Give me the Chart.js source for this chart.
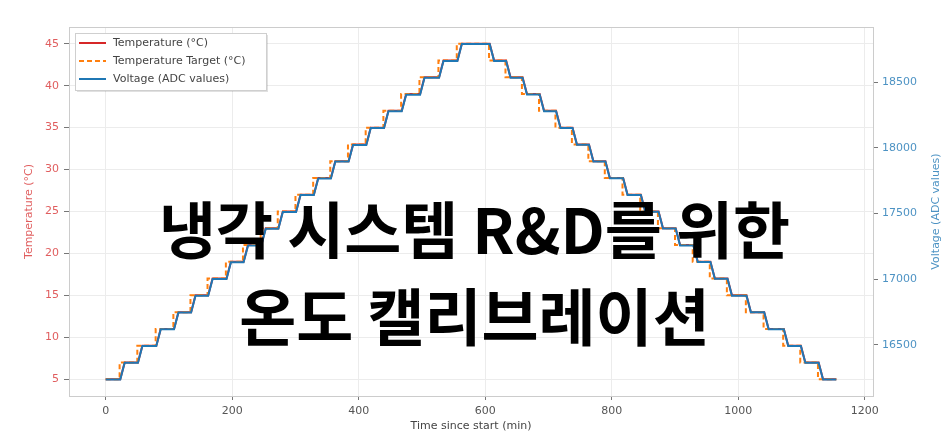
<!DOCTYPE html>
<html>
<head>
<meta charset="utf-8">
<script src="https://cdn.jsdelivr.net/npm/chart.js@4/dist/chart.umd.min.js"></script>
<style>
  html, body { margin: 0; padding: 0; background: #fff; }
  #wrap { position: relative; width: 949px; height: 433px; }
  #overlay {
    position: absolute; left: 0; top: 184px; width: 949px;
    text-align: center; font-family: "Noto Sans CJK KR", sans-serif;
    font-weight: 700; font-size: 62px; line-height: 87px; color: #000;
    pointer-events: none;
  }
</style>
</head>
<body>
<div id="wrap">
  <canvas id="chart" width="949" height="433"></canvas>
  <div id="overlay">냉각 시스템 R&amp;D를 위한<br>온도 캘리브레이션</div>
</div>
<script>
// target change times (min) and the levels between them
const changeTimes = [22, 50, 79, 107, 134, 161, 190, 217, 245, 272, 300, 328, 355, 383, 411, 439, 467, 496, 526, 555,
  606, 632, 658, 685, 711, 737, 763, 789, 817, 845, 873, 900, 928, 955, 982, 1012, 1040, 1071, 1098, 1126];
const tempLevels = [5, 7, 9, 11, 13, 15, 17, 19, 21, 23, 25, 27, 29, 31, 33, 35, 37, 39, 41, 43, 45,
  43, 41, 39, 37, 35, 33, 31, 29, 27, 25, 23, 21, 19, 17, 15, 13, 11, 9, 7, 5];
const voltLevels = [16236, 16364, 16490, 16619, 16746, 16874, 17001, 17129, 17257, 17384, 17512, 17640, 17767, 17895, 18022, 18150, 18278, 18405, 18533, 18661, 18790,
  18662, 18534, 18406, 18279, 18151, 18023, 17896, 17768, 17640, 17513, 17385, 17257, 17130, 17002, 16874, 16747, 16619, 16491, 16364, 16236];
const endTime = 1155;
const lag = 1;    // temperature starts moving after target
const ramp = 8;   // minutes to reach the new level
const xTicks = [0, 200, 400, 600, 800, 1000, 1200];
const tempTicks = [5, 10, 15, 20, 25, 30, 35, 40, 45];
const voltTicks = [16500, 17000, 17500, 18000, 18500];

function targetPoints() {
  const pts = [{x: 0, y: tempLevels[0]}];
  changeTimes.forEach(function (t, i) {
    pts.push({x: t, y: tempLevels[i]});
    pts.push({x: t, y: tempLevels[i + 1]});
  });
  pts.push({x: endTime, y: tempLevels[tempLevels.length - 1]});
  return pts;
}

function followPoints(levels) {
  const pts = [{x: 0, y: levels[0]}];
  changeTimes.forEach(function (t, i) {
    pts.push({x: t + lag, y: levels[i]});
    pts.push({x: t + ramp, y: levels[i + 1]});
  });
  pts.push({x: endTime, y: levels[levels.length - 1]});
  return pts;
}

function fixedTicks(list) {
  return function (axis) {
    axis.ticks = list.map(function (v) { return {value: v}; });
  };
}

const redText = "rgba(214,39,40,0.75)";
const blueText = "rgba(31,119,180,0.8)";
const font = "DejaVu Sans";
const plain = function (v) { return String(v); };

const framePlugin = {
  id: "frame",
  afterDraw: function (chart) {
    const ctx = chart.ctx;
    const a = chart.chartArea;
    ctx.save();
    ctx.strokeStyle = "#cccccc";
    ctx.lineWidth = 1;
    ctx.strokeRect(a.left + 0.5, a.top + 0.5, a.right - a.left, a.bottom - a.top);

    // right axis title, bottom-to-top like matplotlib
    ctx.translate(936, (a.top + a.bottom) / 2);
    ctx.rotate(-Math.PI / 2);
    ctx.fillStyle = blueText;
    ctx.font = "11px " + font;
    ctx.textAlign = "center";
    ctx.textBaseline = "middle";
    ctx.fillText("Voltage (ADC values)", 0, 0);
    ctx.restore();

    // legend box inside the plot
    ctx.save();
    const bx = 75, by = 33, bw = 191, bh = 57;
    ctx.fillStyle = "rgba(0,0,0,0.12)";
    ctx.fillRect(bx + 2, by + 2, bw, bh);
    ctx.fillStyle = "#ffffff";
    ctx.fillRect(bx, by, bw, bh);
    ctx.strokeStyle = "#cfcfcf";
    ctx.strokeRect(bx + 0.5, by + 0.5, bw, bh);
    ctx.font = "11px " + font;
    ctx.textBaseline = "middle";
    chart.data.datasets.forEach(function (ds, i) {
      const y = by + 10 + i * 18;
      ctx.beginPath();
      ctx.strokeStyle = ds.borderColor;
      ctx.lineWidth = 2;
      ctx.setLineDash(ds.borderDash || []);
      ctx.moveTo(bx + 4, y);
      ctx.lineTo(bx + 31, y);
      ctx.stroke();
      ctx.setLineDash([]);
      ctx.fillStyle = "#444";
      ctx.fillText(ds.label, bx + 38, y);
    });
    ctx.restore();
  }
};

var ctx = document.getElementById("chart").getContext("2d");
var myChart = new Chart(ctx, {
  type: "line",
  data: {
    datasets: [
      {
        label: "Temperature (°C)",
        data: followPoints(tempLevels),
        borderColor: "#d62728",
        borderWidth: 2,
        pointRadius: 0,
        yAxisID: "y",
        order: 3,
      },
      {
        label: "Temperature Target (°C)",
        data: targetPoints(),
        borderColor: "#ff7f0e",
        borderWidth: 2,
        borderDash: [5, 3],
        pointRadius: 0,
        yAxisID: "y",
        order: 2,
      },
      {
        label: "Voltage (ADC values)",
        data: followPoints(voltLevels),
        borderColor: "#1f77b4",
        borderWidth: 2,
        pointRadius: 0,
        yAxisID: "y1",
        order: 1,
      },
    ],
  },
  options: {
    responsive: false,
    animation: false,
    layout: { padding: { top: 27, left: 0, right: 0, bottom: 0 } },
    plugins: {
      legend: { display: false },
      tooltip: { enabled: false },
    },
    scales: {
      x: {
        type: "linear",
        min: -58,
        max: 1213,
        afterBuildTicks: fixedTicks(xTicks),
        afterFit: function (axis) { axis.height = 37; },
        grid: { color: "#ececec", tickColor: "#777", tickLength: 4 },
        border: { display: false },
        ticks: { color: "#555", font: { family: font, size: 11 }, padding: 5, callback: plain },
        title: {
          display: true, text: "Time since start (min)", color: "#444",
          font: { family: font, size: 11 }, padding: { top: 0, bottom: 0 },
        },
      },
      y: {
        position: "left",
        min: 3,
        max: 47,
        afterBuildTicks: fixedTicks(tempTicks),
        ticks: { color: redText, font: { family: font, size: 11 }, padding: 5, callback: plain },
        afterFit: function (axis) { axis.width = 69; },
        grid: { color: "#ececec", tickColor: "#777", tickLength: 5 },
        border: { display: false },
        title: {
          display: true, text: "Temperature (°C)", color: redText,
          font: { family: font, size: 11 }, padding: { top: 23, bottom: 0 },
        },
      },
      y1: {
        position: "right",
        min: 16110,
        max: 18920,
        afterBuildTicks: fixedTicks(voltTicks),
        ticks: { color: blueText, font: { family: font, size: 11 }, padding: 4, callback: plain },
        afterFit: function (axis) { axis.width = 76; },
        grid: { drawOnChartArea: false, tickColor: "#777", tickLength: 5 },
        border: { display: false },
      },
    },
  },
  plugins: [framePlugin],
});
</script>
</body>
</html>
